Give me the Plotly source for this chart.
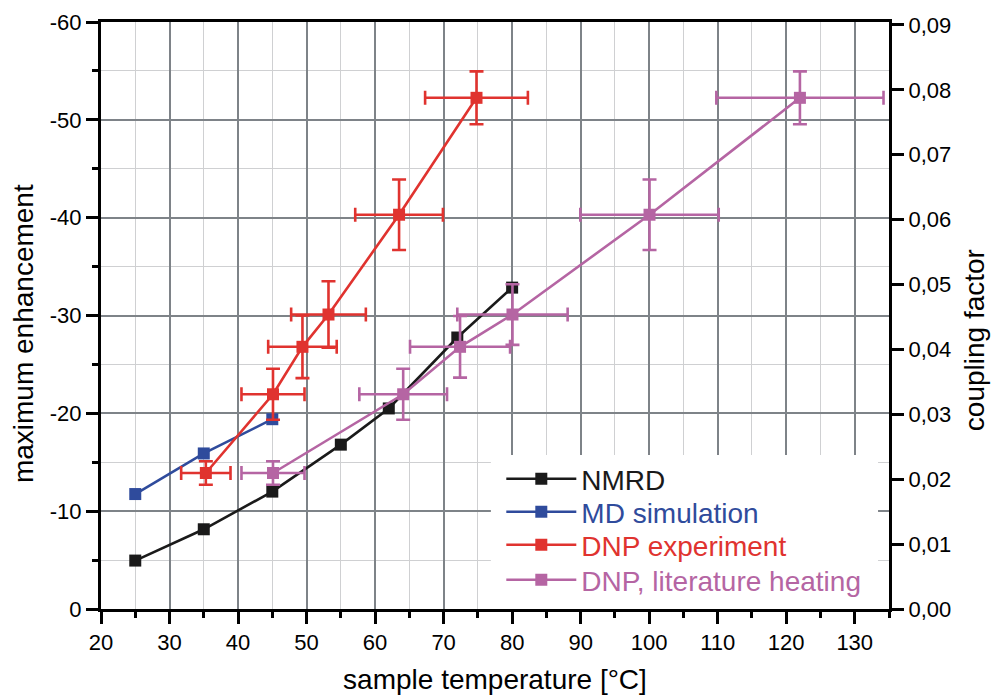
import plotly.graph_objects as go

# ---- data ----
nmrd_T = [25, 35, 45, 55, 62, 72, 80]
nmrd_E = [-4.95, -8.15, -12.0, -16.8, -20.5, -27.75, -32.85]

md_T = [25, 35, 45]
md_E = [-11.75, -15.9, -19.4]

dnp_T = [35.3, 45.1, 49.4, 53.2, 63.5, 74.8]
dnp_E = [-13.9, -21.95, -26.8, -30.1, -40.3, -52.25]
dnp_Terr = [3.6, 4.6, 5.0, 5.45, 6.4, 7.5]
dnp_Eerr = [1.2, 2.6, 3.2, 3.4, 3.6, 2.7]

lit_T = [45.1, 64.1, 72.4, 80.05, 100.05, 122.0]
lit_E = [-13.9, -21.95, -26.8, -30.1, -40.3, -52.25]
lit_Terr = [4.6, 6.4, 7.3, 8.05, 10.1, 12.2]
lit_Eerr = [1.2, 2.6, 3.15, 3.1, 3.6, 2.7]

x_ticks = [20, 30, 40, 50, 60, 70, 80, 90, 100, 110, 120, 130]
y_ticks = [0, -10, -20, -30, -40, -50, -60]
y_ticktext = ["0", "-10", "-20", "-30", "-40", "-50", "-60"]
y2_ticks = [0.00, 0.01, 0.02, 0.03, 0.04, 0.05, 0.06, 0.07, 0.08, 0.09]
y2_ticktext = ["0,00", "0,01", "0,02", "0,03", "0,04", "0,05", "0,06", "0,07", "0,08", "0,09"]

names = ["NMRD", "MD simulation", "DNP experiment", "DNP, literature heating"]
colors = ["#1a1a1a", "#2f4b9c", "#e0332f", "#b565a3"]

x_title = "sample temperature [°C]"
y_title = "maximum enhancement"
y2_title = "coupling factor"

FONT = "Liberation Sans, Arial, Helvetica, sans-serif"
LW = 2.6
MS = 12

fig = go.Figure()

series = [
    (nmrd_T, nmrd_E, None, None),
    (md_T, md_E, None, None),
    (dnp_T, dnp_E, dnp_Terr, dnp_Eerr),
    (lit_T, lit_E, lit_Terr, lit_Eerr),
]

for (xs, ys, xe, ye), c in zip(series, colors):
    kw = {}
    if xe is not None:
        kw["error_x"] = dict(type="data", array=xe, visible=True, color=c, thickness=2.6, width=7)
        kw["error_y"] = dict(type="data", array=ye, visible=True, color=c, thickness=2.6, width=7)
    fig.add_trace(go.Scatter(
        x=xs, y=ys, mode="lines+markers",
        line=dict(color=c, width=LW),
        marker=dict(symbol="square", size=MS, color=c),
        showlegend=False, **kw))

# legend entries, one legend box per entry for exact row spacing
legend_ids = ["legend", "legend2", "legend3", "legend4"]
legend_rows = [0.2215, 0.1652, 0.1090, 0.0494]
for n, c, lid in zip(names, colors, legend_ids):
    fig.add_trace(go.Scatter(
        x=[None], y=[None], mode="lines+markers",
        name='<span style="color:%s">%s</span>' % (c, n),
        line=dict(color=c, width=LW),
        marker=dict(symbol="square", size=MS, color=c),
        showlegend=True, legend=lid))

# invisible trace to anchor the right axis
fig.add_trace(go.Scatter(x=[None], y=[None], yaxis="y2", showlegend=False, hoverinfo="skip"))

major_grid = "#7e8388"
minor_grid = "#cfd0d2"

legend_layout = {}
for lid, ly in zip(legend_ids, legend_rows):
    legend_layout[lid] = dict(
        x=0.508, y=ly, xanchor="left", yanchor="middle",
        bgcolor="rgba(0,0,0,0)", borderwidth=0,
        font=dict(size=28, family=FONT),
        itemwidth=70,
    )

fig.update_layout(
    width=992, height=695,
    margin=dict(l=101, r=103, t=22, b=86, autoexpand=False),
    paper_bgcolor="white", plot_bgcolor="white",
    font=dict(family=FONT, size=22, color="black"),
    xaxis=dict(
        range=[20, 135], tickvals=x_ticks, ticktext=[str(v) for v in x_ticks],
        showline=True, linecolor="black", linewidth=3, mirror=True,
        ticks="outside", ticklen=12, tickwidth=2.5, tickcolor="black",
        showgrid=True, gridcolor=major_grid, gridwidth=1.6,
        minor=dict(tickmode="linear", tick0=20, dtick=5, ticks="outside", ticklen=6,
                   tickwidth=2.5, tickcolor="black", showgrid=True, gridcolor=minor_grid, gridwidth=1.2),
        zeroline=False, automargin=False,
        tickfont=dict(size=22),
        title=dict(text=x_title, font=dict(size=28), standoff=16),
    ),
    yaxis=dict(
        range=[0, -60], tickvals=y_ticks, ticktext=y_ticktext,
        showline=True, linecolor="black", linewidth=3,
        ticks="outside", ticklen=12, tickwidth=2.5, tickcolor="black",
        showgrid=True, gridcolor=major_grid, gridwidth=1.6,
        minor=dict(tickmode="linear", tick0=0, dtick=5, ticks="outside", ticklen=6,
                   tickwidth=2.5, tickcolor="black", showgrid=True, gridcolor=minor_grid, gridwidth=1.2),
        zeroline=False, automargin=False,
        tickfont=dict(size=22),
    ),
    yaxis2=dict(
        overlaying="y", side="right", anchor="x",
        range=[0, 0.09045], tickvals=y2_ticks, ticktext=y2_ticktext,
        showline=True, linecolor="black", linewidth=3,
        ticks="outside", ticklen=12, tickwidth=2.5, tickcolor="black",
        showgrid=False, zeroline=False, automargin=False,
        tickfont=dict(size=22),
    ),
    annotations=[
        dict(text=y_title, xref="paper", yref="paper", x=-0.099, y=0.470,
             xanchor="center", yanchor="middle", textangle=-90, showarrow=False,
             borderpad=0, font=dict(size=28, family=FONT, color="black")),
        dict(text=y2_title, xref="paper", yref="paper", x=1.1079, y=0.458,
             xanchor="center", yanchor="middle", textangle=-90, showarrow=False,
             borderpad=0, font=dict(size=28, family=FONT, color="black")),
    ],
    shapes=[dict(type="rect", xref="x", yref="y",
                 x0=76.9, x1=133.4, y0=0, y1=-15.75,
                 fillcolor="white", line=dict(width=0), layer="between")],
    **legend_layout,
)

fig.write_html("out.html")
